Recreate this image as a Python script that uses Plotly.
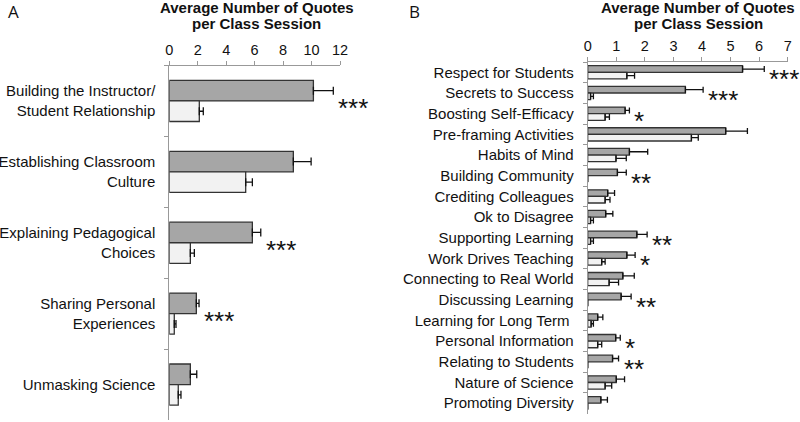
import plotly.graph_objects as go

# ---------------- Panel A data ----------------
a_cats = ["Building the Instructor/<br>Student Relationship",
          "Establishing Classroom<br>Culture",
          "Explaining Pedagogical<br>Choices",
          "Sharing Personal<br>Experiences",
          "Unmasking Science"]
a_dark = [10.13, 8.72, 5.84, 1.90, 1.48]
a_dark_err = [1.40, 1.25, 0.59, 0.19, 0.45]
a_light = [2.11, 5.37, 1.48, 0.35, 0.63]
a_light_err = [0.28, 0.47, 0.28, 0.12, 0.19]
a_stars = ["***", "", "***", "***", ""]
a_ticks = [0, 2, 4, 6, 8, 10, 12]

# ---------------- Panel B data ----------------
b_cats = ["Respect for Students", "Secrets to Success", "Boosting Self-Efficacy",
          "Pre-framing Activities", "Habits of Mind", "Building Community",
          "Crediting Colleagues", "Ok to Disagree", "Supporting Learning",
          "Work Drives Teaching", "Connecting to Real World", "Discussing Learning",
          "Learning for Long Term\u00a0", "Personal Information", "Relating to Students",
          "Nature of Science", "Promoting Diversity"]
b_dark = [5.42, 3.42, 1.31, 4.83, 1.46, 1.04, 0.70, 0.63, 1.72, 1.37, 1.23, 1.17,
          0.35, 0.98, 0.87, 1.00, 0.46]
b_dark_err = [0.76, 0.62, 0.15, 0.76, 0.64, 0.31, 0.24, 0.25, 0.36, 0.29, 0.40, 0.35,
              0.18, 0.16, 0.21, 0.29, 0.23]
b_light = [1.37, 0.10, 0.61, 3.63, 0.99, 0.0, 0.61, 0.10, 0.10, 0.49, 0.75, 0.0,
           0.12, 0.35, 0.0, 0.61, 0.0]
b_light_err = [0.27, 0.10, 0.15, 0.24, 0.36, 0.0, 0.17, 0.10, 0.10, 0.12, 0.33, 0.0,
               0.08, 0.14, 0.0, 0.23, 0.0]
b_stars = ["***", "***", "*", "", "", "**", "", "", "**", "*", "", "**", "", "*", "**", "", ""]
b_ticks = [0, 1, 2, 3, 4, 5, 6, 7]

DARK = "#a6a6a6"
LIGHT = "#f2f2f2"
EDGE = "#333333"
AXIS = "#999999"
FONT = "Liberation Sans, Arial, sans-serif"

fig = go.Figure()


def add_pair(cats, dark, derr, light, lerr, xa, ya, w, capw):
    fig.add_trace(go.Bar(
        y=cats, x=dark, orientation="h", xaxis=xa, yaxis=ya,
        width=w, offset=-w, marker=dict(color=DARK, line=dict(color=EDGE, width=1.3)),
        error_x=dict(type="data", array=derr, arrayminus=[0] * len(derr), symmetric=False,
                     color="#111111", thickness=1.3, width=capw),
        showlegend=False, hoverinfo="x+y"))
    fig.add_trace(go.Bar(
        y=cats, x=light, orientation="h", xaxis=xa, yaxis=ya,
        width=w, offset=0, marker=dict(color=LIGHT, line=dict(color=EDGE, width=1.3)),
        error_x=dict(type="data", array=lerr, arrayminus=[0] * len(lerr), symmetric=False,
                     color="#111111", thickness=1.3, width=capw),
        showlegend=False, hoverinfo="x+y"))


add_pair(a_cats, a_dark, a_dark_err, a_light, a_light_err, "x", "y", 0.29, 4)
add_pair(b_cats, b_dark, b_dark_err, b_light, b_light_err, "x2", "y2", 0.32, 3)

H = 422.0
W = 800.0


def py(px):
    return (H - px) / H


def pxx(px):
    return px / W


axis_common = dict(showline=True, linecolor=AXIS, linewidth=1, ticks="outside",
                   tickcolor=AXIS, ticklen=4, showgrid=False, zeroline=False,
                   fixedrange=True)
xfont = dict(family=FONT, size=14.5, color="#111111")
yfont = dict(family=FONT, size=15, color="#111111")

fig.update_layout(
    width=800, height=422, margin=dict(l=0, r=0, t=0, b=0, autoexpand=False),
    paper_bgcolor="white", plot_bgcolor="white", barmode="group",
    xaxis=dict(domain=[pxx(169.3), pxx(340.0)], anchor="y", side="top",
               range=[0, 12], tickvals=a_ticks, tickfont=xfont, **axis_common),
    yaxis=dict(domain=[py(420.0), py(65.5)], anchor="x",
               range=[len(a_cats) - 0.5, -0.5], automargin=False,
               tickson="boundaries", tickfont=yfont, ticklabelstandoff=10, **axis_common),
    xaxis2=dict(domain=[pxx(587.7), pxx(787.7)], anchor="y2", side="top",
                range=[0, 7], tickvals=b_ticks, tickfont=xfont, **axis_common),
    yaxis2=dict(domain=[py(413.5), py(62.0)], anchor="x2",
                range=[len(b_cats) - 0.5, -0.5], automargin=False,
                tickson="boundaries", tickfont=yfont, ticklabelstandoff=10, **axis_common),
)

annotations = []
for cats, dark, derr, stars, xr, yr in [(a_cats, a_dark, a_dark_err, a_stars, "x", "y"),
                                        (b_cats, b_dark, b_dark_err, b_stars, "x2", "y2")]:
    for c, d, e, s in zip(cats, dark, derr, stars):
        if s:
            annotations.append(dict(x=d + e, y=c, xref=xr, yref=yr, text=s, showarrow=False,
                                    xanchor="left", yanchor="middle", xshift=3, yshift=-7,
                                    font=dict(family=FONT, size=26, color="#111111")))

title_font = dict(family=FONT, size=15, color="#111111", weight="bold")
for cx in [256.5, 698.0]:
    annotations.append(dict(x=pxx(cx), y=py(11.0), xref="paper", yref="paper",
                            text="<b>Average Number of Quotes</b>", showarrow=False,
                            xanchor="center", yanchor="bottom", yshift=-7, font=title_font))
    annotations.append(dict(x=pxx(cx), y=py(28.3), xref="paper", yref="paper",
                            text="<b>per Class Session</b>", showarrow=False,
                            xanchor="center", yanchor="bottom", yshift=-6, font=title_font))

for lbl, lx in [("A", 6.0), ("B", 407.0)]:
    annotations.append(dict(x=pxx(lx), y=1.0, xref="paper", yref="paper", text=lbl,
                            showarrow=False, xanchor="left", yanchor="top", yshift=2,
                            font=dict(family="Open Sans, sans-serif", size=17, color="#111111")))

fig.update_layout(annotations=annotations)
fig.write_html("out.html", config={"displayModeBar": False},
               post_script="document.body.style.margin='0';document.body.style.padding='0';"
                           "document.body.style.overflow='hidden';"
                           "document.documentElement.style.overflow='hidden';")
